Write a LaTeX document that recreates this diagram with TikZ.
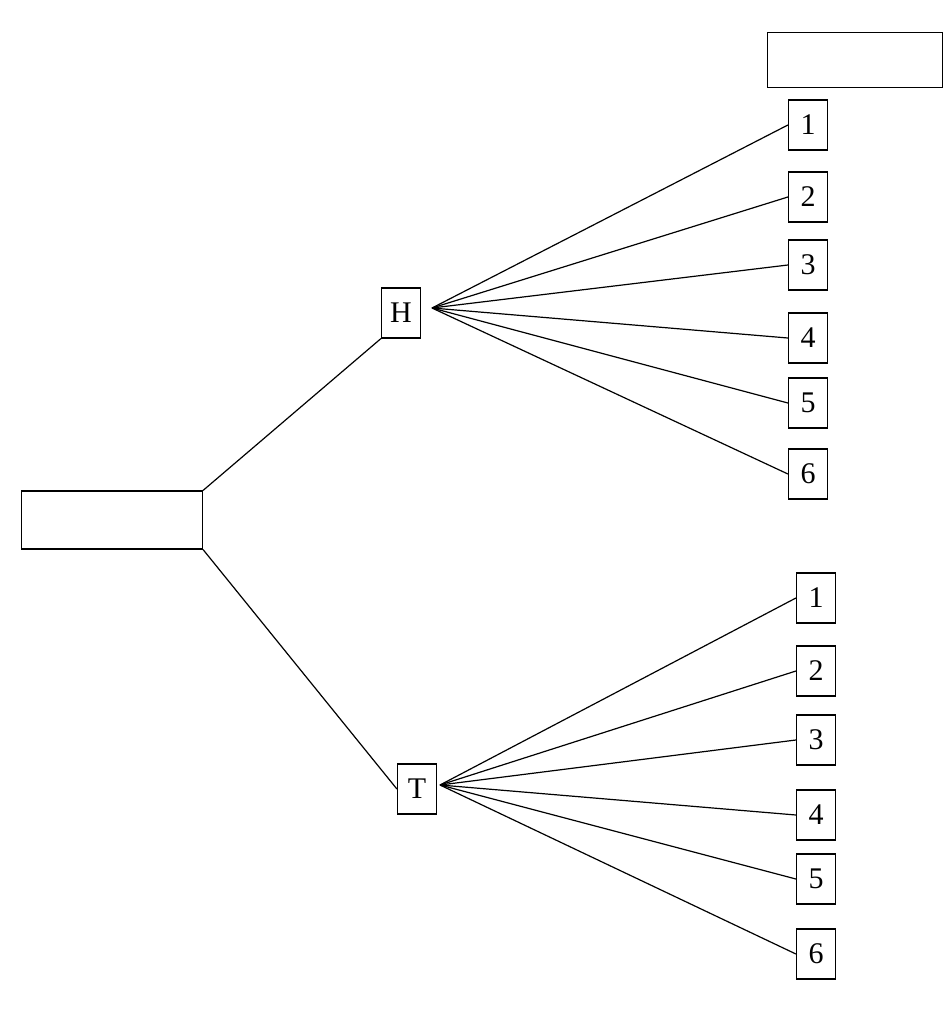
\documentclass[tikz,border=0pt]{standalone}
\usepackage{fontspec}
\setmainfont{Liberation Serif}
\begin{document}
\begin{tikzpicture}[x=1pt,y=-1pt,
  box/.style={draw,line width=1.2pt,inner sep=2pt,minimum width=39pt,minimum height=50pt,font=\fontsize{30}{34}\selectfont},
  wbox/.style={draw,line width=1.2pt,inner sep=0pt,minimum height=58pt,font=\fontsize{28}{32}\selectfont},
  edge/.style={line width=1.2pt}]
\useasboundingbox (0,0) rectangle (950,1024);
\node[wbox,minimum width=181pt] (coin) at (112,520) {\makebox[0pt]{মুদ্রার পিঠ}};
\node[wbox,minimum width=175pt,minimum height=55pt] (die) at (855,60) {\makebox[0pt]{ছক্কার পিঠ}};
\node[box] (H) at (401,313) {H};
\node[box] (T) at (417,789) {T};
\coordinate (hH) at (432,308);
\coordinate (hT) at (440,785);
\foreach \n/\y in {1/125,2/197,3/265,4/338,5/403,6/474}{
  \node[box] (h\n) at (808,\y) {\n};
  \draw[edge] (hH) -- (h\n.west);
}
\foreach \n/\y in {1/598,2/671,3/740,4/815,5/879,6/954}{
  \node[box] (t\n) at (816,\y) {\n};
  \draw[edge] (hT) -- (t\n.west);
}
\draw[edge] (coin.north east) -- (H.south west);
\draw[edge] (coin.south east) -- (T.west);
\end{tikzpicture}
\end{document}
